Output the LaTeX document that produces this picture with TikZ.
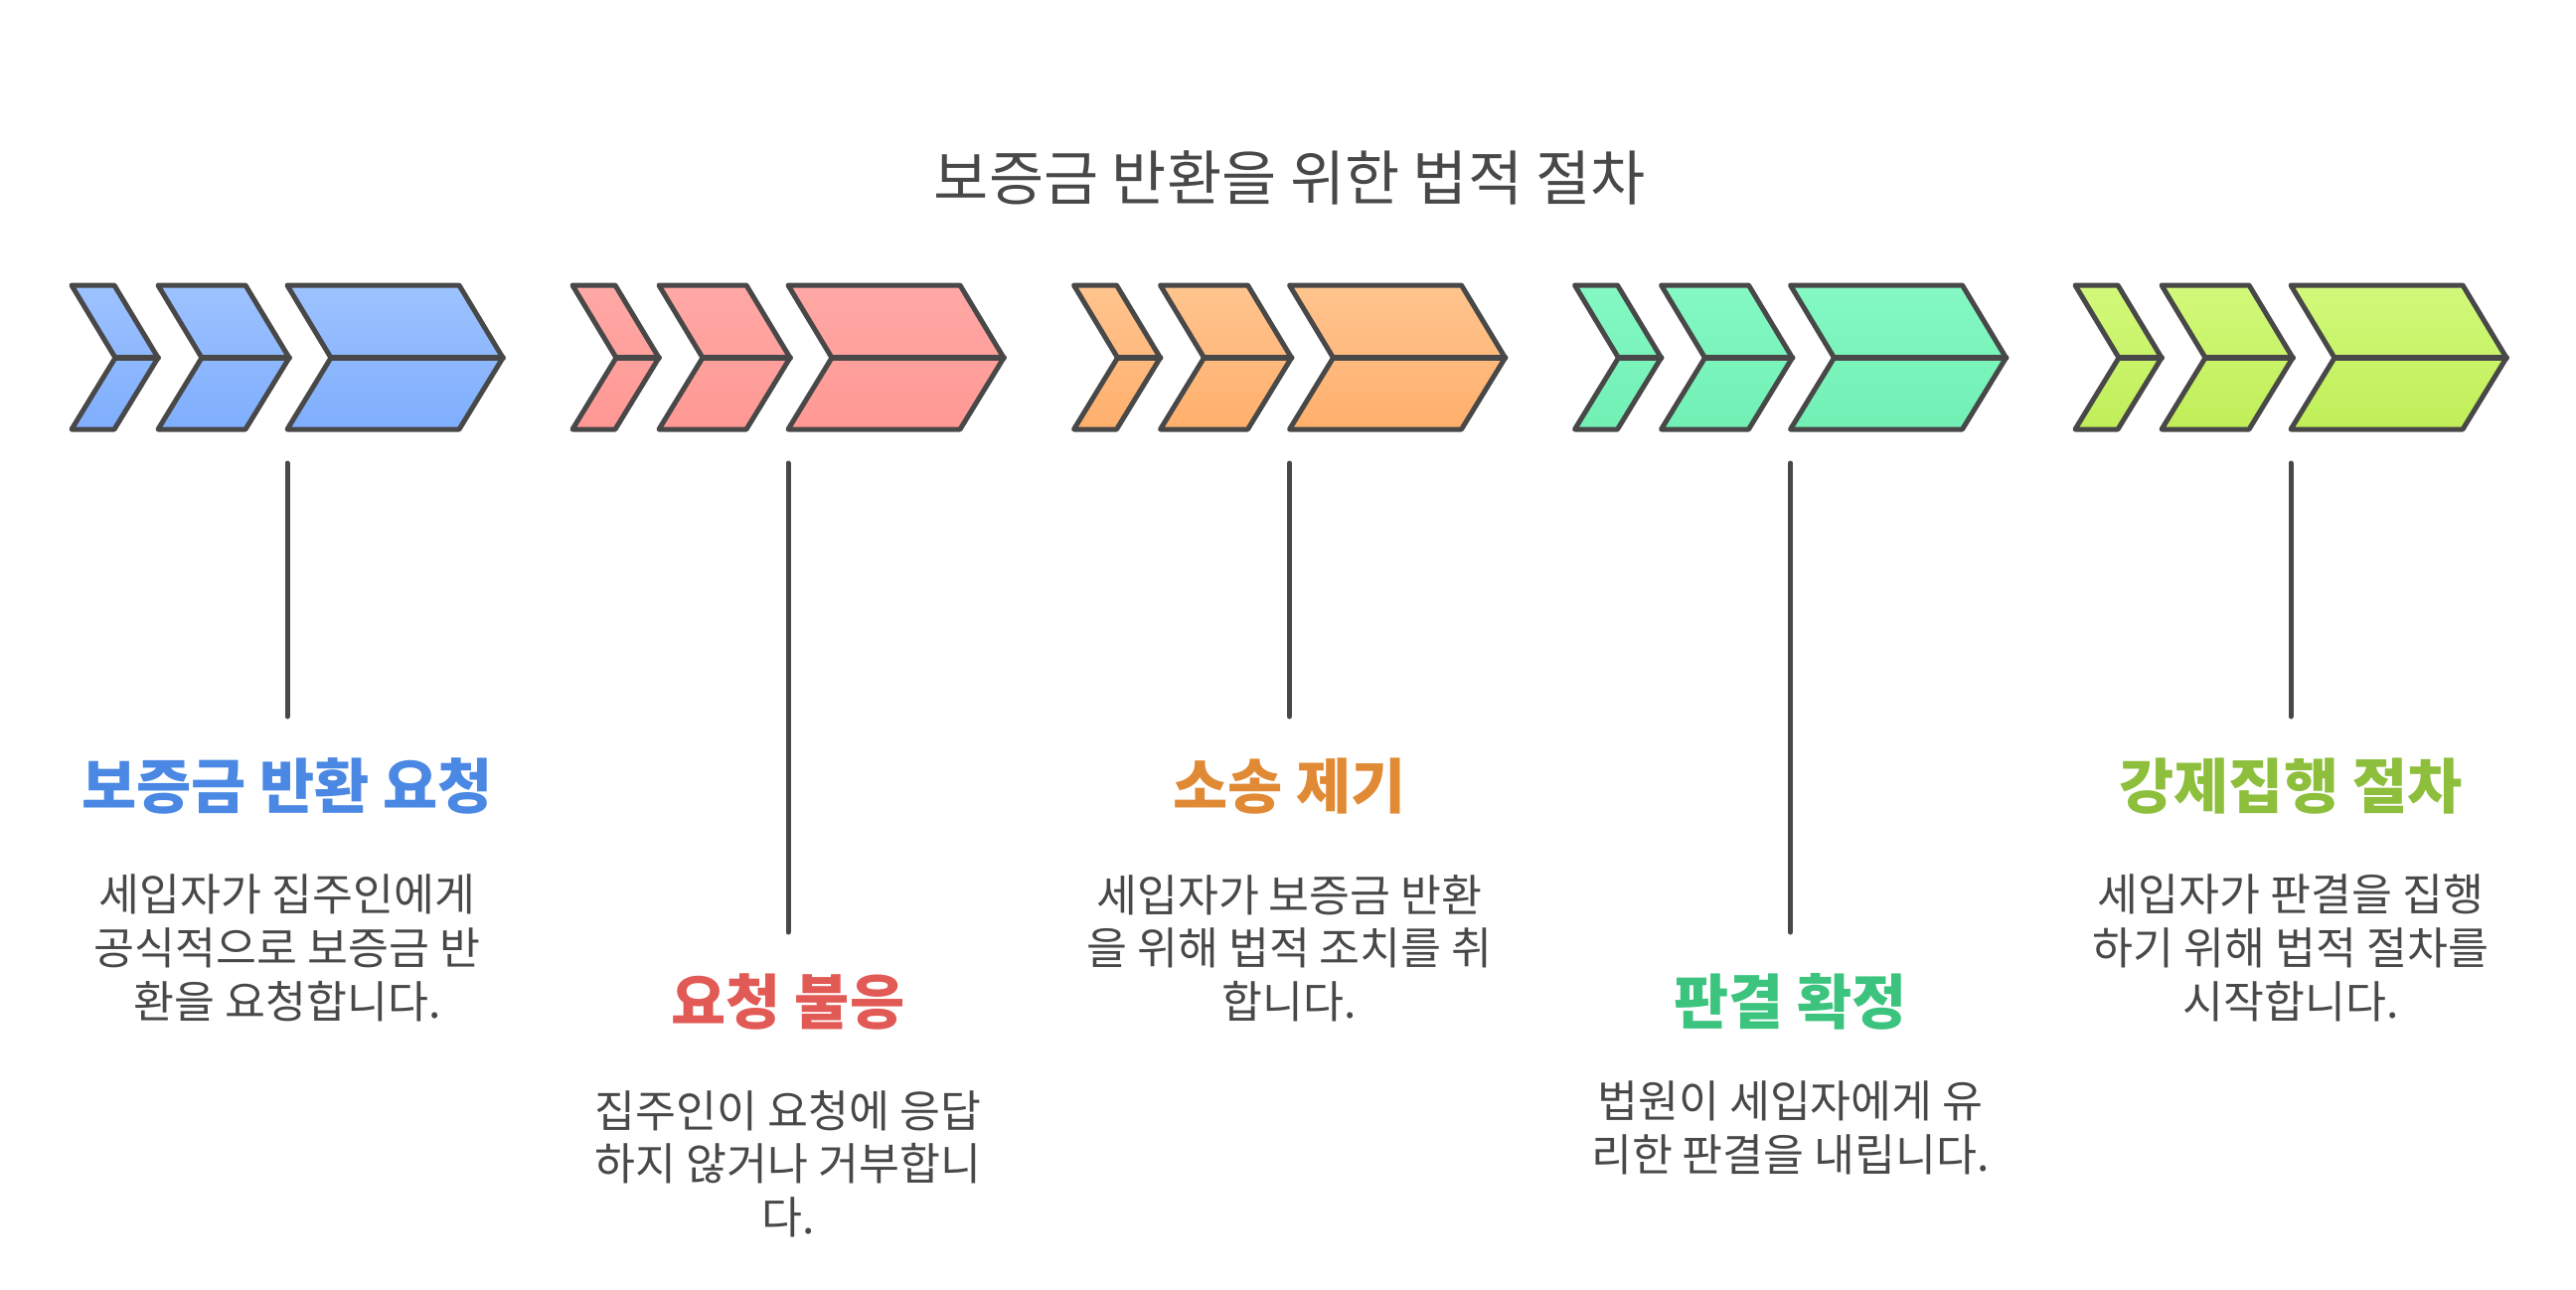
\documentclass[tikz,border=0pt]{standalone}
\usepackage{fontspec}
\newfontfamily\kr{Noto Sans CJK KR}
\definecolor{ink}{HTML}{484848}
\definecolor{bluetop}{HTML}{9DC2FF}
\definecolor{bluebot}{HTML}{7FAEFD}
\definecolor{redtop}{HTML}{FFA8A5}
\definecolor{redbot}{HTML}{FF9894}
\definecolor{orangetop}{HTML}{FFC48E}
\definecolor{orangebot}{HTML}{FFAF6C}
\definecolor{greentop}{HTML}{84F8C3}
\definecolor{greenbot}{HTML}{71F0B4}
\definecolor{limetop}{HTML}{D2F97A}
\definecolor{limebot}{HTML}{C0EE58}
\definecolor{tblue}{HTML}{4A88E4}
\definecolor{tred}{HTML}{E25A55}
\definecolor{torange}{HTML}{E08A35}
\definecolor{tgreen}{HTML}{3CC47E}
\definecolor{tlime}{HTML}{8DBE3C}
\begin{document}
\begin{tikzpicture}[x=1pt,y=-1pt,
  chev/.style={draw=ink, line width=5pt, line join=round},
  midline/.style={draw=ink, line width=6pt, line cap=round},
  conn/.style={draw=ink, line width=5pt, line cap=round},
  ttl/.style={inner sep=0pt, font=\kr\bfseries\fontsize{60}{70}\selectfont, anchor=center},
  desc/.style={inner sep=0pt, text=ink, align=center, font=\kr\fontsize{44.5}{53.7}\selectfont, anchor=center},
  maintitle/.style={inner sep=0pt, text=ink, font=\kr\fontsize{60}{70}\selectfont}]
\useasboundingbox (0,0) rectangle (2592,1298);
\node[maintitle] (title) at (1298,179) {보증금 반환을 위한 법적 절차};
\foreach \s/\ct/\cb/\i in {72/bluetop/bluebot/1, 576/redtop/redbot/2, 1080.5/orangetop/orangebot/3, 1584.5/greentop/greenbot/4, 2088/limetop/limebot/5}{
  \foreach \a/\b in {0/43, 87/175, 217/390}{
    \path[chev, top color=\ct, bottom color=\cb] (\s+\a,287) -- (\s+\b,287) -- (\s+\b+44,360) -- (\s+\b,432) -- (\s+\a,432) -- (\s+\a+44,360) -- cycle;
    \draw[midline] (\s+\a+44,360) -- (\s+\b+44,360);
  }
  \coordinate (top\i) at (\s+217,466);
}
\coordinate (bot1) at (289,721);
\coordinate (bot2) at (793,938);
\coordinate (bot3) at (1297.5,721);
\coordinate (bot4) at (1801.5,938);
\coordinate (bot5) at (2305,721);
\foreach \i in {1,...,5}{\draw[conn] (top\i) -- (bot\i);}
\node[ttl, text=tblue] (h1) at (289,791) {보증금 반환 요청};
\node[desc] (d1) at (289,954) {세입자가 집주인에게\\공식적으로 보증금 반\\환을 요청합니다.};
\node[ttl, text=tred] (h2) at (793,1008) {요청 불응};
\node[desc] (d2) at (793,1171) {집주인이 요청에 응답\\하지 않거나 거부합니\\다.};
\node[ttl, text=torange] (h3) at (1297.5,791) {소송 제기};
\node[desc] (d3) at (1297.5,954) {세입자가 보증금 반환\\을 위해 법적 조치를 취\\합니다.};
\node[ttl, text=tgreen] (h4) at (1801.5,1008) {판결 확정};
\node[desc] (d4) at (1801.5,1134.5) {법원이 세입자에게 유\\리한 판결을 내립니다.};
\node[ttl, text=tlime] (h5) at (2305,791) {강제집행 절차};
\node[desc] (d5) at (2305,954) {세입자가 판결을 집행\\하기 위해 법적 절차를\\시작합니다.};
\end{tikzpicture}
\end{document}
